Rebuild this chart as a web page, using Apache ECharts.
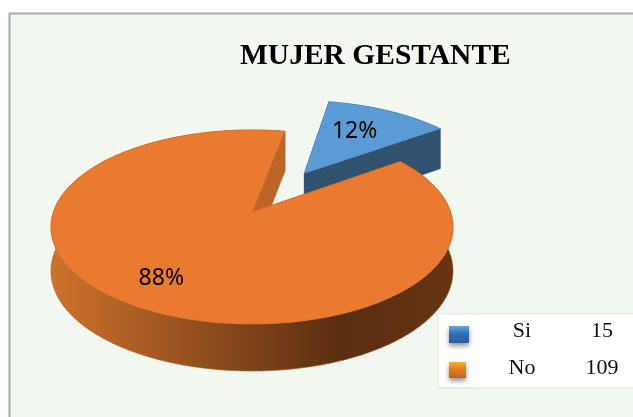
<!DOCTYPE html>
<html>
<head>
<meta charset="utf-8">
<style>html,body{margin:0;padding:0;background:#fff}#c{width:633px;height:417px}</style>
<script src="https://cdn.jsdelivr.net/npm/echarts@6/dist/echarts.min.js"></script>
</head>
<body>
<div id="c"></div>
<script>
var titleText = 'MUJER GESTANTE';
var categories = ['Si', 'No'];
var values = [15, 109];
var explode = [0.52, 0];
var labelRadius = [0.61, 0.76];
var labelTurn = [-2, 0];
var topColors = ['#5b9bd5', '#e97a2f'];
var cutColors = ['#30526f', '#bd6428'];

var total = values.reduce(function (a, b) { return a + b; }, 0);
var startDeg = 11, CX = 252, CY = 212, A = 198.6, B = 94.7, K = 0.1546;

function project(u, v, lower) {
  var w = 1 + K * v;
  return [CX + A * u / w, CY - B * v / w + (lower ? 43.5 - 3.5 * v : 0)];
}
function sliceRange(i) {
  var before = values.slice(0, i).reduce(function (a, b) { return a + b; }, 0);
  return [startDeg + before / total * 360, startDeg + (before + values[i]) / total * 360];
}
function rimPoint(i, deg, r, lower) {
  var rg = sliceRange(i), mid = (rg[0] + rg[1]) / 2 * Math.PI / 180, a = deg * Math.PI / 180;
  return project(explode[i] * Math.sin(mid) + r * Math.sin(a), explode[i] * Math.cos(mid) + r * Math.cos(a), lower);
}
function arcPoints(i, from, to, lower) {
  var pts = [], n = Math.ceil(Math.abs(to - from) * 2);
  for (var s = 0; s <= n; s++) pts.push(rimPoint(i, from + (to - from) * s / n, 1, lower));
  return pts;
}
function poly(pts, fill, stroke) {
  return { type: 'polygon', shape: { points: pts }, style: { fill: fill, stroke: stroke || fill, lineWidth: 0.6 } };
}

function renderItem(params, api) {
  var i = params.dataIndex, rg = sliceRange(i), mid = (rg[0] + rg[1]) / 2;
  var wallFill = i === 0 ? cutColors[0] : new echarts.graphic.LinearGradient(50, 0, 452, 0, [
    { offset: 0, color: '#cf722c' },
    { offset: 0.4, color: '#8e4c1e' },
    { offset: 0.72, color: '#5a2e11' },
    { offset: 1, color: '#663412' }
  ], true);
  var centre = rimPoint(i, 0, 0, false), centreLow = rimPoint(i, 0, 0, true);
  var top = arcPoints(i, rg[0], rg[1], false), low = arcPoints(i, rg[0], rg[1], true);
  var wall = top.concat(low.slice().reverse());
  var startFace = [centre, top[0], low[0], centreLow];
  var endFace = [centre, top[top.length - 1], low[low.length - 1], centreLow];
  var disc = [centre].concat(top);
  var pct = Math.round(api.value(0) / total * 100) + '%';
  var lp = rimPoint(i, mid + labelTurn[i], labelRadius[i], false);
  return {
    type: 'group',
    children: [
      poly(wall, wallFill, i === 0 ? cutColors[0] : '#a85a20'),
      poly(startFace, cutColors[i]),
      poly(endFace, cutColors[i]),
      poly(disc, topColors[i], i === 0 ? '#5590c8' : '#d96f29'),
      { type: 'text', style: { text: pct, x: lp[0], y: lp[1] - 1, align: 'center', verticalAlign: 'middle',
        font: '23px "Noto Sans", sans-serif', fill: '#000' } }
    ]
  };
}

var legendRows = [
  { y: 335, fill: ['#6aa7e6', '#2f6db5', '#2a5f9e'], x: 449, w: 20, h: 17, ty: 331 },
  { y: 371, fill: ['#f7ab3d', '#e2801f', '#b9651b'], x: 449, w: 17, h: 16, ty: 368 }
];
var graphics = [
  { type: 'rect', z: -2, shape: { x: 9.5, y: 13.5, width: 640, height: 420 },
    style: { fill: '#f2f8f0', stroke: '#a8a8a8', lineWidth: 2 } },
  { type: 'rect', z: 10, shape: { x: 438, y: 314, width: 210, height: 74 },
    style: { fill: '#ffffff', stroke: '#dfe3df', lineWidth: 1 } },
  { type: 'line', z: 11, shape: { x1: 439, y1: 388, x2: 474, y2: 388 }, style: { stroke: '#d8e8c8', lineWidth: 1 } }
];
categories.forEach(function (c, i) {
  var r = legendRows[i];
  graphics.push({ type: 'rect', z: 11, shape: { x: r.x, y: r.y - 9, width: r.w, height: r.h },
    style: { fill: new echarts.graphic.LinearGradient(0, 0, 0, 1, [
      { offset: 0, color: r.fill[0] }, { offset: 0.45, color: r.fill[1] }, { offset: 1, color: r.fill[2] }
    ]), shadowBlur: 5, shadowOffsetY: 3, shadowColor: 'rgba(60,60,60,0.55)' } });
  graphics.push({ type: 'text', z: 11, style: { text: c, x: 522, y: r.ty, align: 'center', verticalAlign: 'middle',
    font: '22px "Liberation Serif", serif', fill: '#111' } });
  graphics.push({ type: 'text', z: 11, style: { text: String(values[i]), x: 602, y: r.ty, align: 'center', verticalAlign: 'middle',
    font: '22px "Liberation Serif", serif', fill: '#111' } });
});

var chart = echarts.init(document.getElementById('c'), null, { renderer: 'canvas' });
chart.setOption({
  animation: false,
  backgroundColor: '#ffffff',
  title: { text: titleText, left: 235, top: 36,
    textStyle: { fontFamily: '"Liberation Serif", serif', fontWeight: 'bold', fontSize: 29.5, color: '#000' } },
  graphic: { elements: graphics },
  series: [{
    type: 'custom',
    coordinateSystem: 'none',
    renderItem: renderItem,
    data: values.map(function (v) { return [v]; })
  }]
});
</script>
</body>
</html>
